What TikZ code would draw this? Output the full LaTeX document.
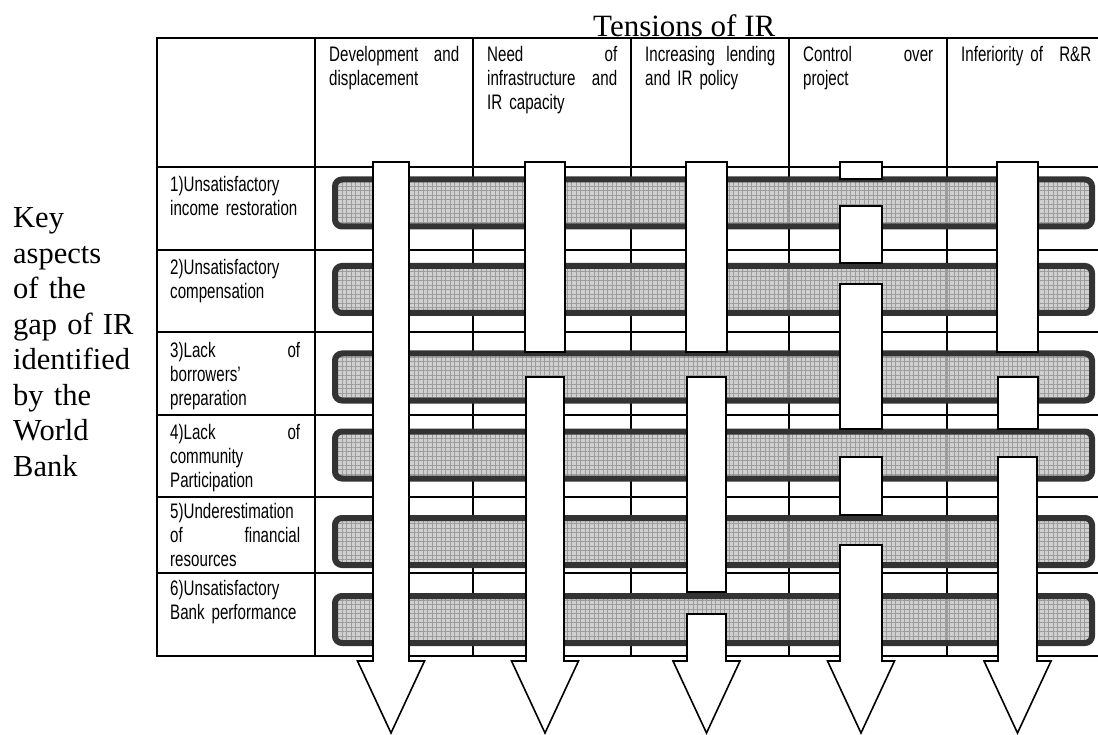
\documentclass[tikz,border=0pt]{standalone}
\usepackage{fontspec}
\setmainfont{Liberation Serif}
\newfontfamily\cellfont[FakeStretch=0.72]{Liberation Sans}
\usetikzlibrary{patterns.meta}
\newcommand{\jl}[1]{\makebox[130pt][s]{\spaceskip=0.28em plus 1fil minus 0.1em\relax #1}}
\definecolor{barborder}{HTML}{333333}
\definecolor{barfill}{HTML}{C4C4C4}
\definecolor{gridc}{HTML}{9C9C9C}
\newcommand{\headseg}[3]{\draw[seg] (#1,#3) -- (#2,#3) -- (#2,661) -- ({(#1+#2)/2+33.5},661) -- ({(#1+#2)/2},733) -- ({(#1+#2)/2-33.5},661) -- (#1,661) -- cycle;}
\begin{document}
\begin{tikzpicture}[x=1pt,y=-1pt,
  tline/.style={line width=2pt, black},
  cell/.style={anchor=base west, inner sep=0pt, text width=130pt, align=left,
    font=\cellfont\fontsize{21}{24}\selectfont},
  bigtext/.style={anchor=base west, inner sep=0pt, text width=140pt, align=left,
    font=\fontsize{30.5}{35.5}\selectfont},
  barshape/.style={rounded corners=7pt},
  seg/.style={fill=white, draw=black, line width=1.6pt}
]
\useasboundingbox (0,0) rectangle (1098,735);
\clip (0,0) rectangle (1098,735);

% title and side label
\node[anchor=base west, inner sep=0pt, font=\fontsize{31}{36}\selectfont] (title) at (593,37) {Tensions of IR};
\node[bigtext] (keylbl) at (13,228) {Key\\aspects\\of the\\gap of IR\\identified\\by the\\World\\Bank};

% table grid
\foreach \x in {157,315,473,631,789,947}
  \draw[tline] (\x,37) -- (\x,657);
\foreach \y in {38,167,250,332,415,497,573,656}
  \draw[tline] (156,\y) -- (1110,\y);

% header cells
\node[cell] (h1) at (329,62) {\jl{Development and}\\displacement};
\node[cell] (h2) at (487,62) {\jl{Need of}\\\jl{infrastructure and}\\IR capacity};
\node[cell] (h3) at (645,62) {\jl{Increasing lending}\\and IR policy};
\node[cell] (h4) at (803,62) {\jl{Control over}\\project};
\node[cell] (h5) at (961,62) {\makebox[130pt]{Inferiority of\hfill R\&R}};

% row label cells
\node[cell] (r1) at (170,191.5) {1)Unsatisfactory\\income restoration};
\node[cell] (r2) at (170,275) {2)Unsatisfactory\\compensation};
\node[cell] (r3) at (170,357.5) {\jl{3)Lack of}\\borrowers’\\preparation};
\node[cell] (r4) at (170,439) {\jl{4)Lack of}\\community\\Participation};
\node[cell] (r5) at (170,518) {5)Underestimation\\\jl{of financial}\\resources};
\node[cell] (r6) at (170,595) {6)Unsatisfactory\\Bank performance};

% bars
\foreach \t in {176.5,263,350.5,428.5,515,593}{
  \fill[barfill, fill opacity=0.8, barshape] (335,\t+3) rectangle (1092,\t+50);
  \fill[pattern={Lines[angle=0,distance=4.5pt,line width=0.6pt]}, pattern color=gridc, barshape] (335,\t+3) rectangle (1092,\t+50);
  \fill[pattern={Lines[angle=90,distance=4.5pt,line width=0.6pt]}, pattern color=gridc, barshape] (335,\t+3) rectangle (1092,\t+50);
  \draw[barborder, line width=6pt, barshape] (335,\t+3) rectangle (1092,\t+50);
}

% arrows (woven segments)
% column 1
\headseg{373}{409}{162}
% column 2
\draw[seg] (525,162) rectangle (565,352);
\headseg{526}{564}{377}
% column 3
\draw[seg] (686,162) rectangle (727,352);
\draw[seg] (687,377) rectangle (726,592);
\headseg{687}{726}{614}
% column 4
\draw[seg] (840,162) rectangle (882,179);
\draw[seg] (840,206) rectangle (882,263);
\draw[seg] (840,284) rectangle (882,429);
\draw[seg] (840,457) rectangle (882,515);
\headseg{840}{882}{545}
% column 5
\draw[seg] (997,162) rectangle (1038,352);
\draw[seg] (998,377) rectangle (1038,429);
\headseg{998}{1037}{457}
\end{tikzpicture}
\end{document}
